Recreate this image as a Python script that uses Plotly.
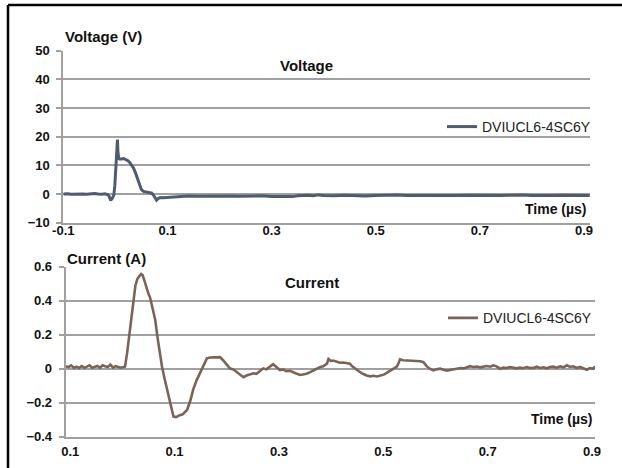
import plotly.graph_objects as go

W, H = 622, 468

# ---------------- data ----------------
volt_t = [-0.1, -0.092, -0.085, -0.078, -0.07, -0.062, -0.055, -0.048, -0.04, -0.033,
          -0.026, -0.02, -0.015, -0.012, -0.009, -0.006, -0.003, -0.001, 0.001, 0.003,
          0.004, 0.005, 0.007, 0.009, 0.012, 0.016, 0.02, 0.024, 0.028, 0.031, 0.035,
          0.039, 0.043, 0.047, 0.05, 0.054, 0.058, 0.062, 0.066, 0.07, 0.074, 0.077,
          0.079, 0.082, 0.086, 0.092, 0.1, 0.108, 0.115, 0.125, 0.14, 0.16, 0.18, 0.2,
          0.22, 0.24, 0.26, 0.28, 0.3, 0.32, 0.34, 0.35, 0.36, 0.37, 0.38, 0.39, 0.4,
          0.42, 0.44, 0.46, 0.48, 0.5, 0.52, 0.54, 0.56, 0.58, 0.6, 0.62, 0.64, 0.66,
          0.68, 0.7, 0.72, 0.74, 0.76, 0.78, 0.8, 0.82, 0.84, 0.86, 0.88, 0.9, 0.911]
volt_v = [0.0, 0.1, -0.1, 0.0, 0.1, 0.0, -0.1, 0.0, 0.2, 0.0,
          -0.1, 0.1, -0.2, -0.8, -2.2, -1.5, -0.4, 3.0, 8.0, 14.0,
          19.0, 14.5, 12.0, 12.3, 12.2, 12.4, 12.0, 11.6, 10.9, 10.1, 9.0,
          7.2, 5.0, 3.0, 1.5, 0.9, 0.8, 0.6, 0.4, 0.3, -0.6, -1.8,
          -2.1, -1.6, -1.2, -1.3, -1.2, -1.1, -0.8, -0.7, -0.7, -0.8, -0.7, -0.6,
          -0.7, -0.8, -0.7, -0.6, -0.9, -1.0, -0.9, -0.6, -0.5, -0.4, -0.6, -0.3, -0.5,
          -0.6, -0.4, -0.6, -0.7, -0.5, -0.4, -0.3, -0.5, -0.6, -0.5, -0.5, -0.6, -0.5,
          -0.4, -0.5, -0.6, -0.5, -0.4, -0.3, -0.5, -0.6, -0.5, -0.4, -0.5, -0.4, -0.5]

curr_t = [-0.108, -0.103, -0.098, -0.093, -0.088, -0.083, -0.078, -0.073, -0.068, -0.063,
          -0.058, -0.053, -0.048, -0.043, -0.038, -0.033, -0.028, -0.023, -0.018, -0.013,
          -0.008, -0.003, 0.002, 0.005, 0.009, 0.013, 0.017, 0.021, 0.025, 0.029, 0.033,
          0.036, 0.039, 0.043, 0.047, 0.05, 0.053, 0.058, 0.063, 0.068, 0.072, 0.076,
          0.081, 0.086, 0.091, 0.095, 0.098, 0.103, 0.107, 0.111, 0.115, 0.12, 0.124,
          0.13, 0.136, 0.142, 0.149, 0.155, 0.162, 0.168, 0.175, 0.181, 0.187, 0.193,
          0.2, 0.206, 0.213, 0.219, 0.226, 0.232, 0.238, 0.244, 0.251, 0.257, 0.263,
          0.27, 0.276, 0.283, 0.289, 0.295, 0.302, 0.308, 0.314, 0.321, 0.327, 0.334,
          0.341, 0.347, 0.353, 0.36, 0.366, 0.372, 0.379, 0.385, 0.388, 0.392, 0.395,
          0.4, 0.404, 0.41, 0.417, 0.423, 0.43, 0.436, 0.44, 0.446, 0.453, 0.461, 0.468,
          0.475, 0.481, 0.488, 0.494, 0.501, 0.509, 0.515, 0.521, 0.526, 0.529, 0.532,
          0.538, 0.545, 0.551, 0.558, 0.564, 0.571, 0.577, 0.583, 0.589, 0.596, 0.602,
          0.609, 0.615, 0.622, 0.628, 0.635, 0.641, 0.648, 0.654, 0.66, 0.666, 0.673,
          0.679, 0.686, 0.692, 0.698, 0.705, 0.711, 0.717, 0.724, 0.73, 0.736, 0.743,
          0.749, 0.755, 0.762, 0.768, 0.775, 0.781, 0.788, 0.794, 0.8, 0.807, 0.813,
          0.819, 0.826, 0.832, 0.839, 0.845, 0.852, 0.858, 0.864, 0.871, 0.877, 0.884,
          0.89, 0.896, 0.902, 0.906]
curr_v = [0.015, 0.01, 0.02, 0.005, 0.012, 0.004, 0.016, 0.006, 0.012, 0.02,
          0.006, 0.01, 0.016, 0.005, 0.02, 0.014, 0.01, 0.024, 0.006, 0.015,
          0.01, 0.006, 0.01, 0.012, 0.09, 0.2, 0.3, 0.41, 0.49, 0.53, 0.55,
          0.557, 0.55, 0.51, 0.455, 0.44, 0.42, 0.36, 0.286, 0.17, 0.08, 0.012,
          -0.06, -0.13, -0.2, -0.243, -0.282, -0.285, -0.278, -0.272, -0.27, -0.258, -0.243,
          -0.19, -0.12, -0.07, -0.025, 0.02, 0.061, 0.066, 0.068, 0.07, 0.068, 0.05,
          0.022, 0.002, -0.005, -0.02, -0.037, -0.05, -0.04, -0.035, -0.027, -0.03, -0.015,
          0.002, -0.004, 0.012, 0.026, 0.01, -0.008, -0.004, -0.015, -0.012, -0.022, -0.03,
          -0.037, -0.033, -0.03, -0.02, -0.01, 0.0, 0.01, 0.014, 0.02, 0.03, 0.057,
          0.045, 0.048, 0.042, 0.035, 0.036, 0.032, 0.03, 0.015, 0.0, -0.015, -0.03, -0.04,
          -0.045, -0.042, -0.046, -0.04, -0.035, -0.02, -0.01, 0.0, 0.012, 0.03, 0.055,
          0.05, 0.048, 0.05, 0.046, 0.042, 0.044, 0.038, 0.015, 0.0, -0.01, -0.004,
          0.0, -0.006, -0.012, -0.008, -0.004, 0.0, 0.004, 0.002, 0.01, 0.015, 0.01,
          0.013, 0.008, 0.013, 0.016, 0.012, 0.02, 0.014, 0.0, 0.006, 0.004, 0.01,
          0.008, 0.002, 0.006, 0.003, 0.01, 0.004, 0.005, 0.012, 0.004, 0.008, 0.002,
          0.01, 0.012, 0.006, 0.014, 0.008, 0.02, 0.01, 0.014, 0.004, 0.01, 0.002,
          -0.006, 0.004, 0.0, 0.013]

volt_ticks = [-0.1, 0.1, 0.3, 0.5, 0.7, 0.9]
volt_ticktext = ["-0.1", "0.1", "0.3", "0.5", "0.7", "0.9"]
curr_ticks = [-0.1, 0.1, 0.3, 0.5, 0.7, 0.9]
curr_ticktext = ["0.1", "0.1", "0.3", "0.5", "0.7", "0.9"]
series_name = "DVIUCL6-4SC6Y"

VCOL = "#4f5b6f"
ICOL = "#7b6357"
GRID = "#a0a0a0"
FONT = "Liberation Sans, Arial, sans-serif"


def px(x):
    return x / W


def py(y):
    return 1 - y / H


fig = go.Figure()
fig.add_trace(go.Scatter(x=volt_t, y=volt_v, mode="lines", name=series_name,
                         line=dict(color=VCOL, width=3), xaxis="x", yaxis="y",
                         legend="legend"))
fig.add_trace(go.Scatter(x=curr_t, y=curr_v, mode="lines", name=series_name,
                         line=dict(color=ICOL, width=2.6), xaxis="x2", yaxis="y2",
                         legend="legend2"))

tickfont = dict(family=FONT, size=13, color="#111111", weight="bold")

common_y = dict(showgrid=True, gridcolor=GRID, gridwidth=2, showline=True,
                linecolor=GRID, linewidth=2, ticks="outside", ticklen=5,
                tickcolor=GRID, tickwidth=2, zeroline=False, tickfont=tickfont,
                ticklabelstandoff=4, fixedrange=True, automargin=False)
common_x = dict(showgrid=False, showline=True, linecolor=GRID, linewidth=2,
                ticks="", zeroline=False, tickfont=tickfont, fixedrange=True,
                automargin=False)

fig.update_layout(
    width=W, height=H, autosize=False,
    margin=dict(l=0, r=0, t=0, b=0, pad=0, autoexpand=False),
    paper_bgcolor="white", plot_bgcolor="white",
    font=dict(family=FONT, color="#111111"),
    xaxis=dict(domain=[px(63.3), px(590)], range=[-0.1, 0.9115], anchor="y",
               tickvals=volt_ticks, ticktext=volt_ticktext, ticklabelstandoff=-5,
               **common_x),
    yaxis=dict(domain=[py(222.7), py(50.7)], range=[-10, 50], dtick=10,
               anchor="x", **common_y),
    xaxis2=dict(domain=[px(65.7), px(595)], range=[-0.1086, 0.9057], anchor="y2",
                tickvals=curr_ticks, ticktext=curr_ticktext, ticklabelstandoff=2,
                **common_x),
    yaxis2=dict(domain=[py(436.7), py(266.7)], range=[-0.4, 0.6], dtick=0.2,
                tickformat="~g", anchor="x2", **common_y),
    legend=dict(x=px(596), y=py(127), xanchor="right", yanchor="middle",
                bgcolor="rgba(0,0,0,0)", font=dict(family=FONT, size=14, color="#222222"),
                borderwidth=0, tracegroupgap=0),
    legend2=dict(x=px(597), y=py(318.3), xanchor="right", yanchor="middle",
                 bgcolor="rgba(0,0,0,0)", font=dict(family=FONT, size=14, color="#222222"),
                 borderwidth=0),
    showlegend=True,
)

bold = lambda s: dict(family=FONT, size=s, color="#111111", weight="bold")
annos = [
    dict(text="Voltage (V)", x=px(63), y=py(37), xanchor="left", yanchor="middle", font=bold(15)),
    dict(text="Voltage", x=px(306.5), y=py(66), xanchor="center", yanchor="middle", font=bold(15)),
    dict(text="Time (µs)", x=px(589), y=py(209.3), xanchor="right", yanchor="middle", font=bold(14)),
    dict(text="Current (A)", x=px(65), y=py(258.3), xanchor="left", yanchor="middle", font=bold(15)),
    dict(text="Current", x=px(311.7), y=py(282.7), xanchor="center", yanchor="middle", font=bold(15)),
    dict(text="Time (µs)", x=px(595), y=py(419), xanchor="right", yanchor="middle", font=bold(14)),
]
for a in annos:
    a.update(xref="paper", yref="paper", showarrow=False)
fig.update_layout(annotations=annos)

# outer frame (cropped box of the original figure)
fig.update_layout(shapes=[
    dict(type="line", xref="paper", yref="paper", x0=px(8), x1=px(8), y0=0, y1=py(5),
         line=dict(color="black", width=2.5)),
    dict(type="line", xref="paper", yref="paper", x0=px(8), x1=1, y0=py(5), y1=py(5),
         line=dict(color="black", width=2.5)),
])

fig.write_html(
    "out.html", config={"responsive": False, "displayModeBar": False},
    post_script=("document.body.style.margin='0px';"
                 "document.body.style.overflow='hidden';"
                 "document.documentElement.style.overflow='hidden';"))
